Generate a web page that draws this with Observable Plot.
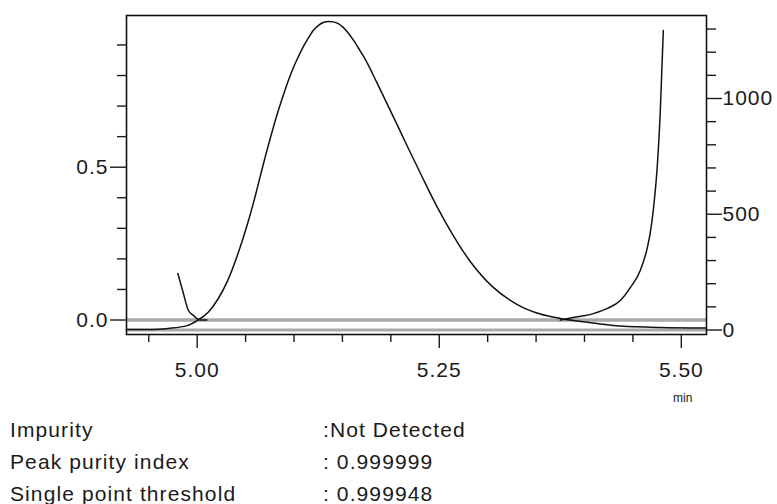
<!DOCTYPE html>
<html><head><meta charset="utf-8">
<script src="https://cdn.jsdelivr.net/npm/d3@7"></script>
<script src="https://cdn.jsdelivr.net/npm/@observablehq/plot@0.6"></script>
<style>
body{margin:0;background:#fff;font-family:"Liberation Sans",Arial,sans-serif;}
#wrap{position:relative;width:777px;height:504px;overflow:hidden;}
#wrap svg{position:absolute;left:0;top:0;}
.row{position:absolute;font-size:21px;line-height:21px;letter-spacing:1.1px;color:#1a1a1a;white-space:nowrap;}
.unit{position:absolute;font-size:12px;line-height:12px;color:#1a1a1a;}
</style></head><body><div id="wrap"></div>
<script>
// Chromatogram (right axis, mAU) vs retention time (min)
const chromTime = [4.9267, 4.9504, 4.9700, 4.9897, 5.0000, 5.0114, 5.0217, 5.0310, 5.0413, 5.0517, 5.0579, 5.0640, 5.0702, 5.0754, 5.0816, 5.0878, 5.0940, 5.0992, 5.1043, 5.1095, 5.1147, 5.1198, 5.1250, 5.1302, 5.1353, 5.1405, 5.1457, 5.1508, 5.1560, 5.1612, 5.1684, 5.1736, 5.1860, 5.2025, 5.2169, 5.2324, 5.2479, 5.2645, 5.2820, 5.3058, 5.3306, 5.3543, 5.3750, 5.4091, 5.4370, 5.4783, 5.5258];
const chromAbs  = [2, 2, 7, 19, 41, 77, 135, 209, 320, 455, 546, 645, 747, 827, 918, 1000, 1076, 1132, 1179, 1223, 1261, 1294, 1315, 1328, 1333, 1331, 1323, 1307, 1283, 1253, 1205, 1169, 1065, 922, 795, 661, 531, 408, 296, 184, 110, 69, 50, 30, 17, 11, 9];
// Purity curve (left axis); null marks the hidden middle part
const purityTime = [4.980, 4.985, 4.991, 4.996, 5.003, 5.010, 5.200, 5.375, 5.3884, 5.4091, 5.4236, 5.4370, 5.4473, 5.4576, 5.4649, 5.4680, 5.4721, 5.4752, 5.4783, 5.4814];
const purityVal  = [0.152, 0.096, 0.031, 0.015, 0.0, 0.0, null, 0.0, 0.008, 0.021, 0.038, 0.064, 0.106, 0.162, 0.237, 0.287, 0.391, 0.505, 0.685, 0.947];
// Axes
const xDomain = [4.927, 5.526];
const leftDomain = [-0.0474, 0.9964];
const rightDomain = [-19.4, 1358.5];
const xMajorTicks = [5.00, 5.25, 5.50];
const xMinorTicks = [4.95, 5.05, 5.10, 5.15, 5.20, 5.30, 5.35, 5.40, 5.45];
const leftMajorTicks = [0, 0.5];
const leftMinorTicks = [0.1, 0.2, 0.3, 0.4, 0.6, 0.7, 0.8, 0.9];
const rightMajorTicks = [0, 500, 1000];
const rightMinorTicks = [100, 200, 300, 400, 600, 700, 800, 900, 1100, 1200, 1300];
const unitLabel = "min";
const infoLabels = ["Impurity", "Peak purity index", "Single point threshold"];
const infoValues = [":Not Detected", ": 0.999999", ": 0.999948"];

const toLeft = d3.scaleLinear().domain(rightDomain).range(leftDomain);
const chrom = chromTime.map((t, i) => ({t, v: toLeft(chromAbs[i])}));
const purity = purityTime.map((t, i) => ({t, v: purityVal[i]}));
const blank = () => "";

const chart = Plot.plot({
  width: 777, height: 410,
  marginLeft: 126, marginRight: 71, marginTop: 15, marginBottom: 76,
  style: {fontFamily: "'Liberation Sans', Arial, sans-serif", fontSize: "21px", color: "#1a1a1a", background: "white", letterSpacing: "1px"},
  x: {domain: xDomain, label: null},
  y: {domain: leftDomain, label: null},
  marks: [
    Plot.ruleY([0], {stroke: "#a9a9a9", strokeWidth: 3.5}),
    Plot.ruleY([toLeft(0)], {stroke: "#a9a9a9", strokeWidth: 3}),
    Plot.line(chrom, {x: "t", y: "v", stroke: "#111", strokeWidth: 1.5, curve: "monotone-x"}),
    Plot.line(purity, {x: "t", y: "v", stroke: "#111", strokeWidth: 1.5, curve: "monotone-x"}),
    Plot.axisX(xMinorTicks, {anchor: "bottom", tickSize: 8, tickFormat: blank, strokeWidth: 1.4, label: null}),
    Plot.axisX(xMajorTicks, {anchor: "bottom", tickSize: 14, tickPadding: 14, tickFormat: d => d.toFixed(2), strokeWidth: 1.4, label: null}),
    Plot.axisY(leftMinorTicks, {anchor: "left", tickSize: 9, tickFormat: blank, strokeWidth: 1.4, label: null}),
    Plot.axisY(leftMajorTicks, {anchor: "left", tickSize: 16, tickPadding: 2, tickFormat: d => d.toFixed(1), strokeWidth: 1.4, label: null}),
    Plot.axisY(rightMinorTicks.map(toLeft), {anchor: "right", tickSize: 9, tickFormat: blank, strokeWidth: 1.4, label: null}),
    Plot.axisY(rightMajorTicks.map(toLeft), {anchor: "right", tickSize: 15, tickPadding: 1, tickFormat: d => String(Math.round(toLeft.invert(d))), strokeWidth: 1.4, label: null}),
    Plot.frame({stroke: "#111", strokeWidth: 1.6})
  ]
});
const wrap = document.getElementById("wrap");
wrap.appendChild(chart);

const u = document.createElement("div");
u.className = "unit";
u.textContent = unitLabel;
u.style.left = "673px"; u.style.top = "392px";
wrap.appendChild(u);

const baselines = [437, 469, 501];
infoLabels.forEach((lab, i) => {
  const a = document.createElement("div");
  a.className = "row"; a.textContent = lab;
  a.style.left = "10px"; a.style.top = (baselines[i] - 18) + "px";
  wrap.appendChild(a);
  const b = document.createElement("div");
  b.className = "row"; b.textContent = infoValues[i];
  b.style.left = "323px"; b.style.top = (baselines[i] - 18) + "px";
  wrap.appendChild(b);
});
</script></body></html>
